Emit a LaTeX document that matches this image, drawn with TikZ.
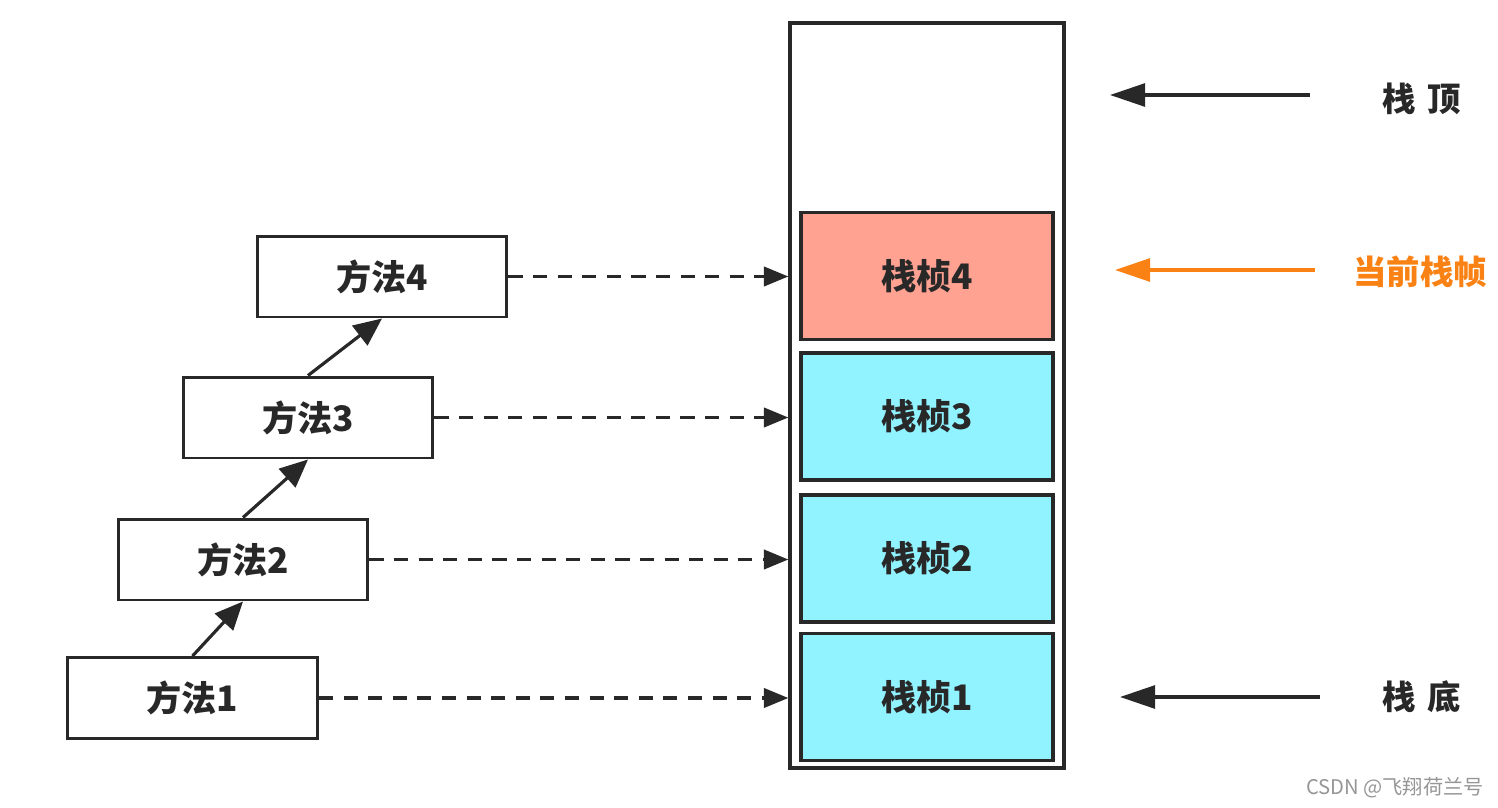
\documentclass[tikz,border=0pt]{standalone}
\usepackage{fontspec}
\setmainfont{Noto Sans CJK SC}
\usetikzlibrary{arrows.meta}
\definecolor{ink}{RGB}{40,40,40}
\definecolor{salmon}{RGB}{255,162,146}
\definecolor{cyanf}{RGB}{145,243,255}
\definecolor{orng}{RGB}{250,130,20}
\definecolor{wm}{RGB}{150,150,150}
\tikzset{
  mbox/.style={draw=ink,line width=1.7pt,fill=white,minimum width=5cm,minimum height=1.62cm,inner sep=0pt,
    font=\fontsize{20}{24}\selectfont\bfseries,text=ink},
  fbox/.style={draw=ink,line width=1.9pt,minimum width=5.04cm,minimum height=2.54cm,inner sep=0pt,
    font=\fontsize{20}{24}\selectfont\bfseries,text=ink},
  callarrow/.style={draw=ink,line width=1.8pt,-{Triangle[length=16pt,width=14pt]}},
  dasharrow/.style={draw=ink,line width=1.9pt,dash pattern=on 8pt off 6pt,-{Triangle[length=14pt,width=11pt]}},
  sidearrow/.style={line width=2pt,-{Triangle[length=20pt,width=13pt]}},
  sidelabel/.style={inner sep=0pt,font=\fontsize{19}{23}\selectfont\bfseries,text=ink}
}
\begin{document}
\begin{tikzpicture}[x=0.02cm,y=-0.02cm]
\useasboundingbox[fill=white] (0,0) rectangle (1498,808);
% stack
\node[draw=ink,line width=1.9pt,minimum width=5.48cm,minimum height=14.9cm,inner sep=0pt] (stack) at (927,395.5) {};
\node[fbox,fill=salmon] (f4) at (927,276) {栈桢4};
\node[fbox,fill=cyanf] (f3) at (927,416.5) {栈桢3};
\node[fbox,fill=cyanf] (f2) at (927,558.5) {栈桢2};
\node[fbox,fill=cyanf] (f1) at (927,697) {栈桢1};
% methods
\node[mbox] (m4) at (382,276.5) {方法4};
\node[mbox] (m3) at (308,417.5) {方法3};
\node[mbox] (m2) at (243,559.5) {方法2};
\node[mbox] (m1) at (192.5,698) {方法1};
\draw[callarrow] (m1.north) -- (m2.south);
\draw[callarrow] (m2.north) -- (m3.south);
\draw[callarrow] (m3.north) -- (m4.south);
\draw[dasharrow] (m4.east) -- (m4.east -| stack.west);
\draw[dasharrow] (m3.east) -- (m3.east -| stack.west);
\draw[dasharrow] (m2.east) -- (m2.east -| stack.west);
\draw[dasharrow] (m1.east) -- (m1.east -| stack.west);
% side labels
\node[sidelabel] (top) at (1422,99) {栈\hspace{0.35em}顶};
\node[sidelabel,text=orng] (cur) at (1420,272) {当前栈帧};
\node[sidelabel] (bot) at (1422,697) {栈\hspace{0.35em}底};
\coordinate (topt) at (1110,95);
\coordinate (curt) at (1115,270);
\coordinate (bott) at (1120,697);
\draw[sidearrow,ink] (1310,95) -- (topt);
\draw[sidearrow,orng] (1315,270) -- (curt);
\draw[sidearrow,ink] (1320,697) -- (bott);
% watermark
\node[inner sep=0pt,font=\fontsize{11.5}{14}\selectfont,text=wm,anchor=east] (wmk) at (1484,788) {CSDN @飞翔荷兰号};
\end{tikzpicture}
\end{document}
